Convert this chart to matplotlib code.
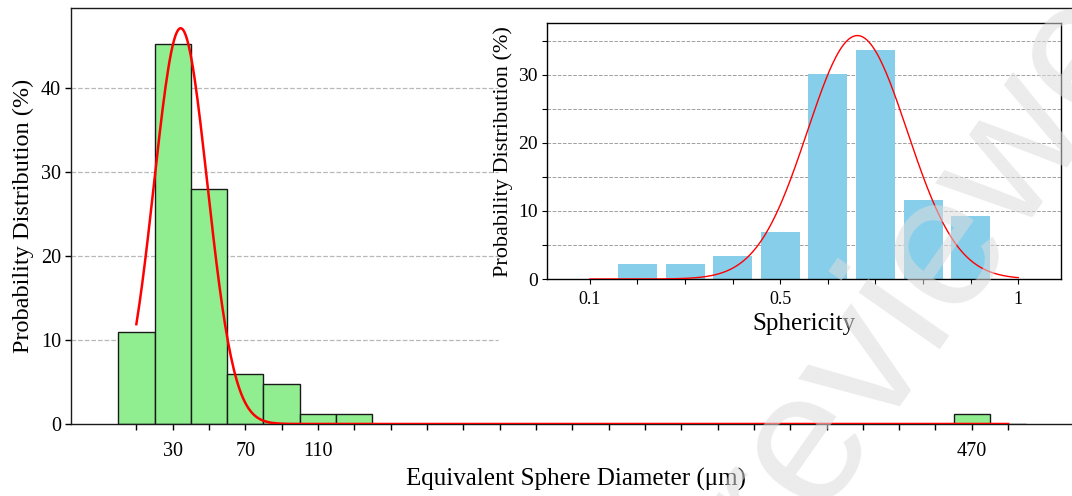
import numpy as np
import matplotlib
matplotlib.use("Agg")
import matplotlib.pyplot as plt

plt.rcParams['font.family'] = ['Liberation Serif', 'DejaVu Serif']

# equivalent sphere diameter histogram (bin centres, um) and share of particles (%)
size_centers = [10, 30, 50, 70, 90, 110, 130, 150, 170, 190, 210, 230, 250,
                270, 290, 310, 330, 350, 370, 390, 410, 430, 450, 470, 490]
size_pct = [10.9, 45.2, 28.0, 6.0, 4.8, 1.2, 1.2, 0, 0, 0, 0, 0, 0,
            0, 0, 0, 0, 0, 0, 0, 0, 0, 0, 1.2, 0]
size_tick_labels = ['', '30', '', '70', '', '110'] + [''] * 17 + ['470', '']

# normal fit over the diameter histogram
size_fit_mu = 34.4
size_fit_sigma = 14.7
size_fit_peak = 47.1

# sphericity histogram
sph_centers = [0.2, 0.3, 0.4, 0.5, 0.6, 0.7, 0.8, 0.9]
sph_pct = [2.2, 2.2, 3.4, 6.9, 30.1, 33.7, 11.6, 9.3]
sph_fit_mu = 0.662
sph_fit_sigma = 0.105
sph_fit_peak = 35.8

BIN_W = 20

fig = plt.figure(figsize=(10.72, 4.96), dpi=100)

##########################
# main axes: diameter
##########################
ax = fig.add_axes([0.0662, 0.1452, 0.942, 0.8387])
ax.bar(size_centers, size_pct, width=BIN_W, color='#90EE90',
       edgecolor='#1a1a1a', linewidth=1.0, zorder=2)

xs = np.linspace(size_centers[0], size_centers[-1], 600)
ys = size_fit_peak * np.exp(-(xs - size_fit_mu) ** 2 / (2 * size_fit_sigma ** 2))
ax.plot(xs, ys, color='red', lw=1.8, zorder=4)

for y in [10, 20, 30, 40]:
    ax.axhline(y, xmin=0, xmax=0.423, color='#b8b8b8', ls='--', lw=0.9, zorder=0.5)

ax.set_xlim(-26, 530)
ax.set_ylim(0, 49.5)
ax.set_xticks(size_centers)
ax.set_xticklabels(size_tick_labels)
ax.set_yticks([0, 10, 20, 30, 40])
ax.tick_params(axis='x', length=4, width=1, labelsize=14.5, pad=9)
ax.tick_params(axis='y', length=4, width=1, labelsize=14.5, pad=3)
ax.spines['right'].set_visible(False)
for s in ['left', 'top', 'bottom']:
    ax.spines[s].set_linewidth(1.0)
    ax.spines[s].set_color('#1a1a1a')
ax.set_xlabel('Equivalent Sphere Diameter (μm)', fontsize=18, labelpad=5)
ax.set_ylabel('Probability Distribution (%)', fontsize=17.5, labelpad=5)

##########################
# inset: sphericity
##########################
ins = fig.add_axes([0.5103, 0.4375, 0.4795, 0.5155])
ins.set_axisbelow(True)
ins.bar(sph_centers, sph_pct, width=0.082, color='skyblue', zorder=2)

sx = np.linspace(0.1, 1.0, 400)
sy = sph_fit_peak * np.exp(-(sx - sph_fit_mu) ** 2 / (2 * sph_fit_sigma ** 2))
ins.plot(sx, sy, color='red', lw=1.0, zorder=3)

ins.set_xlim(0.01, 1.09)
ins.set_ylim(0, 37.6)
ins.set_xticks([0.1, 0.5, 1.0])
ins.set_xticklabels(['0.1', '0.5', '1'])
ins.set_xticks([0.2, 0.3, 0.4, 0.6, 0.7, 0.8, 0.9], minor=True)
ins.set_yticks([0, 10, 20, 30])
ins.set_yticks([5, 15, 25, 35], minor=True)
ins.yaxis.grid(True, which='both', ls='--', color='#a0a0a0', lw=0.7)
ins.tick_params(axis='x', which='both', length=3.5, width=0.8, labelsize=13, pad=5)
ins.tick_params(axis='y', which='both', length=3.5, width=0.8, labelsize=14, pad=3)
for s in ins.spines.values():
    s.set_linewidth(1.0)
ins.set_xlabel('Sphericity', fontsize=18, labelpad=4)
ins.set_ylabel('Probability Distribution (%)', fontsize=16, labelpad=4)

# faint diagonal watermark
fig.text(0.726, -0.133, 'reviewed', rotation=55, rotation_mode='anchor',
         ha='left', va='baseline', fontsize=135, family='Liberation Sans',
         color='#dcdcdc', alpha=0.55, zorder=10)

fig.savefig('out.png', dpi=100)
